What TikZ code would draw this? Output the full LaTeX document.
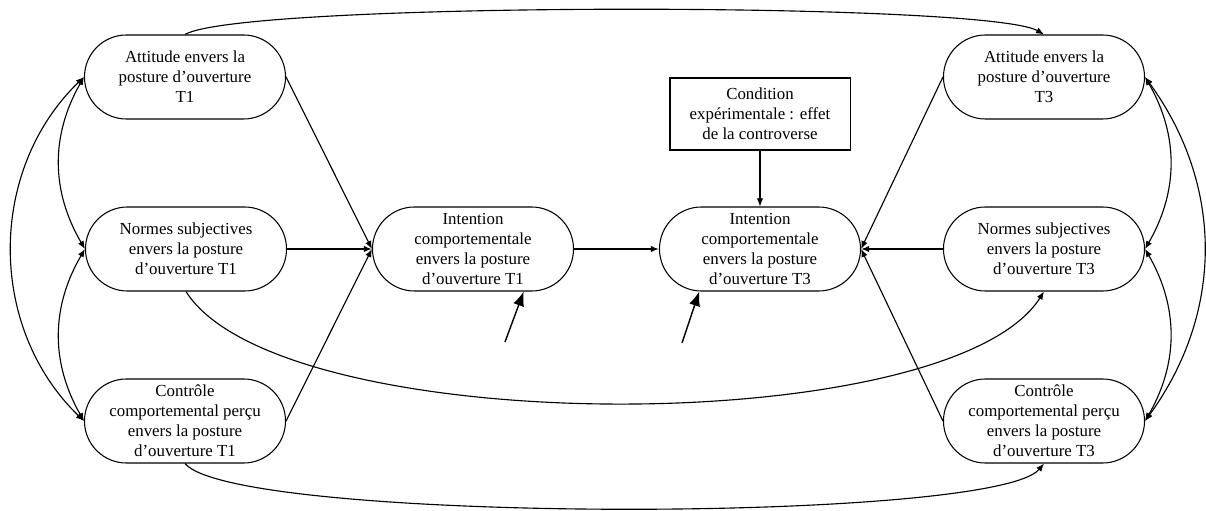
\documentclass[tikz,border=0pt]{standalone}
\usepackage{fontspec}
\setmainfont{Liberation Serif}
\usepackage{tikz}
\usetikzlibrary{arrows.meta}

\begin{document}
\begin{tikzpicture}[
  x=0.025cm, y=0.025cm,
  every node/.style={font=\fontsize{12}{14.2}\selectfont, align=center},
  construct/.style={rectangle, rounded corners=1.05cm, minimum width=5.025cm, minimum height=2.1cm, inner sep=1pt, draw, line width=0.75pt},
  cond_box/.style={rectangle, minimum width=4.5cm, minimum height=1.8cm, inner sep=1pt, draw, line width=0.75pt},
  arrow/.style={-{Latex[length=2mm,width=1.6mm]}, line width=0.8pt},
  thick_arrow/.style={arrow, line width=1.4pt},
  cov/.style={{Latex[length=2mm,width=1.6mm]}-{Latex[length=2mm,width=1.6mm]}, line width=0.8pt},
  err_arrow/.style={-{Latex[length=3.6mm,width=2.8mm]}, line width=1pt}
]
\useasboundingbox (0,0) rectangle (1206,-511);

% Time 1
\node[construct] (A1) at (185,-77) {Attitude envers la\\posture d’ouverture\\T1};
\node[construct] (N1) at (186,-249) {Normes subjectives\\envers la posture\\d’ouverture T1};
\node[construct] (C1) at (185,-421) {Contrôle\\comportemental perçu\\envers la posture\\d’ouverture T1};

% Intentions
\node[construct] (I1) at (473,-249) {Intention\\comportementale\\envers la posture\\d’ouverture T1};
\node[construct] (I3) at (760,-249) {Intention\\comportementale\\envers la posture\\d’ouverture T3};
\node[cond_box] (cond) at (760,-114) {Condition\\expérimentale : effet\\de la controverse};

% Time 3
\node[construct] (A3) at (1044,-77) {Attitude envers la\\posture d’ouverture\\T3};
\node[construct] (N3) at (1044,-249) {Normes subjectives\\envers la posture\\d’ouverture T3};
\node[construct] (C3) at (1044,-421) {Contrôle\\comportemental perçu\\envers la posture\\d’ouverture T3};

% Paths towards the intentions
\draw[arrow] (A1.east) -- (I1.west);
\draw[thick_arrow] (N1.east) -- (I1.west);
\draw[arrow] (C1.east) -- (I1.west);
\draw[thick_arrow] (I1.east) -- (I3.west);
\draw[arrow] (A3.west) -- (I3.east);
\draw[thick_arrow] (N3.west) -- (I3.east);
\draw[arrow] (C3.west) -- (I3.east);
\draw[arrow] (cond.south) -- (I3.north);

% Residuals
\coordinate (e1) at (505,-342);
\coordinate (e3) at (682,-343);
\draw[err_arrow] (e1) -- (I1.-40);
\draw[err_arrow] (e3) -- (I3.-145);

% T1 -> T3
\draw[arrow] (A1.north) .. controls +(57,33) and +(-57,33) .. (A3.north);
\draw[arrow] (N1.south) .. controls +(94,-149) and +(-94,-149) .. (N3.south);
\draw[arrow] (C1.south) .. controls +(50,-60) and +(-50,-60) .. (C3.south);

% Covariances
\draw[cov] (A1.west) to[bend right=30] (N1.west);
\draw[cov] (N1.west) to[bend right=30] (C1.west);
\draw[cov] (A1.west) to[bend right=46] (C1.west);
\draw[cov] (A3.east) to[bend left=30] (N3.east);
\draw[cov] (N3.east) to[bend left=30] (C3.east);
\draw[cov] (A3.east) to[bend left=36] (C3.east);

\end{tikzpicture}
\end{document}
